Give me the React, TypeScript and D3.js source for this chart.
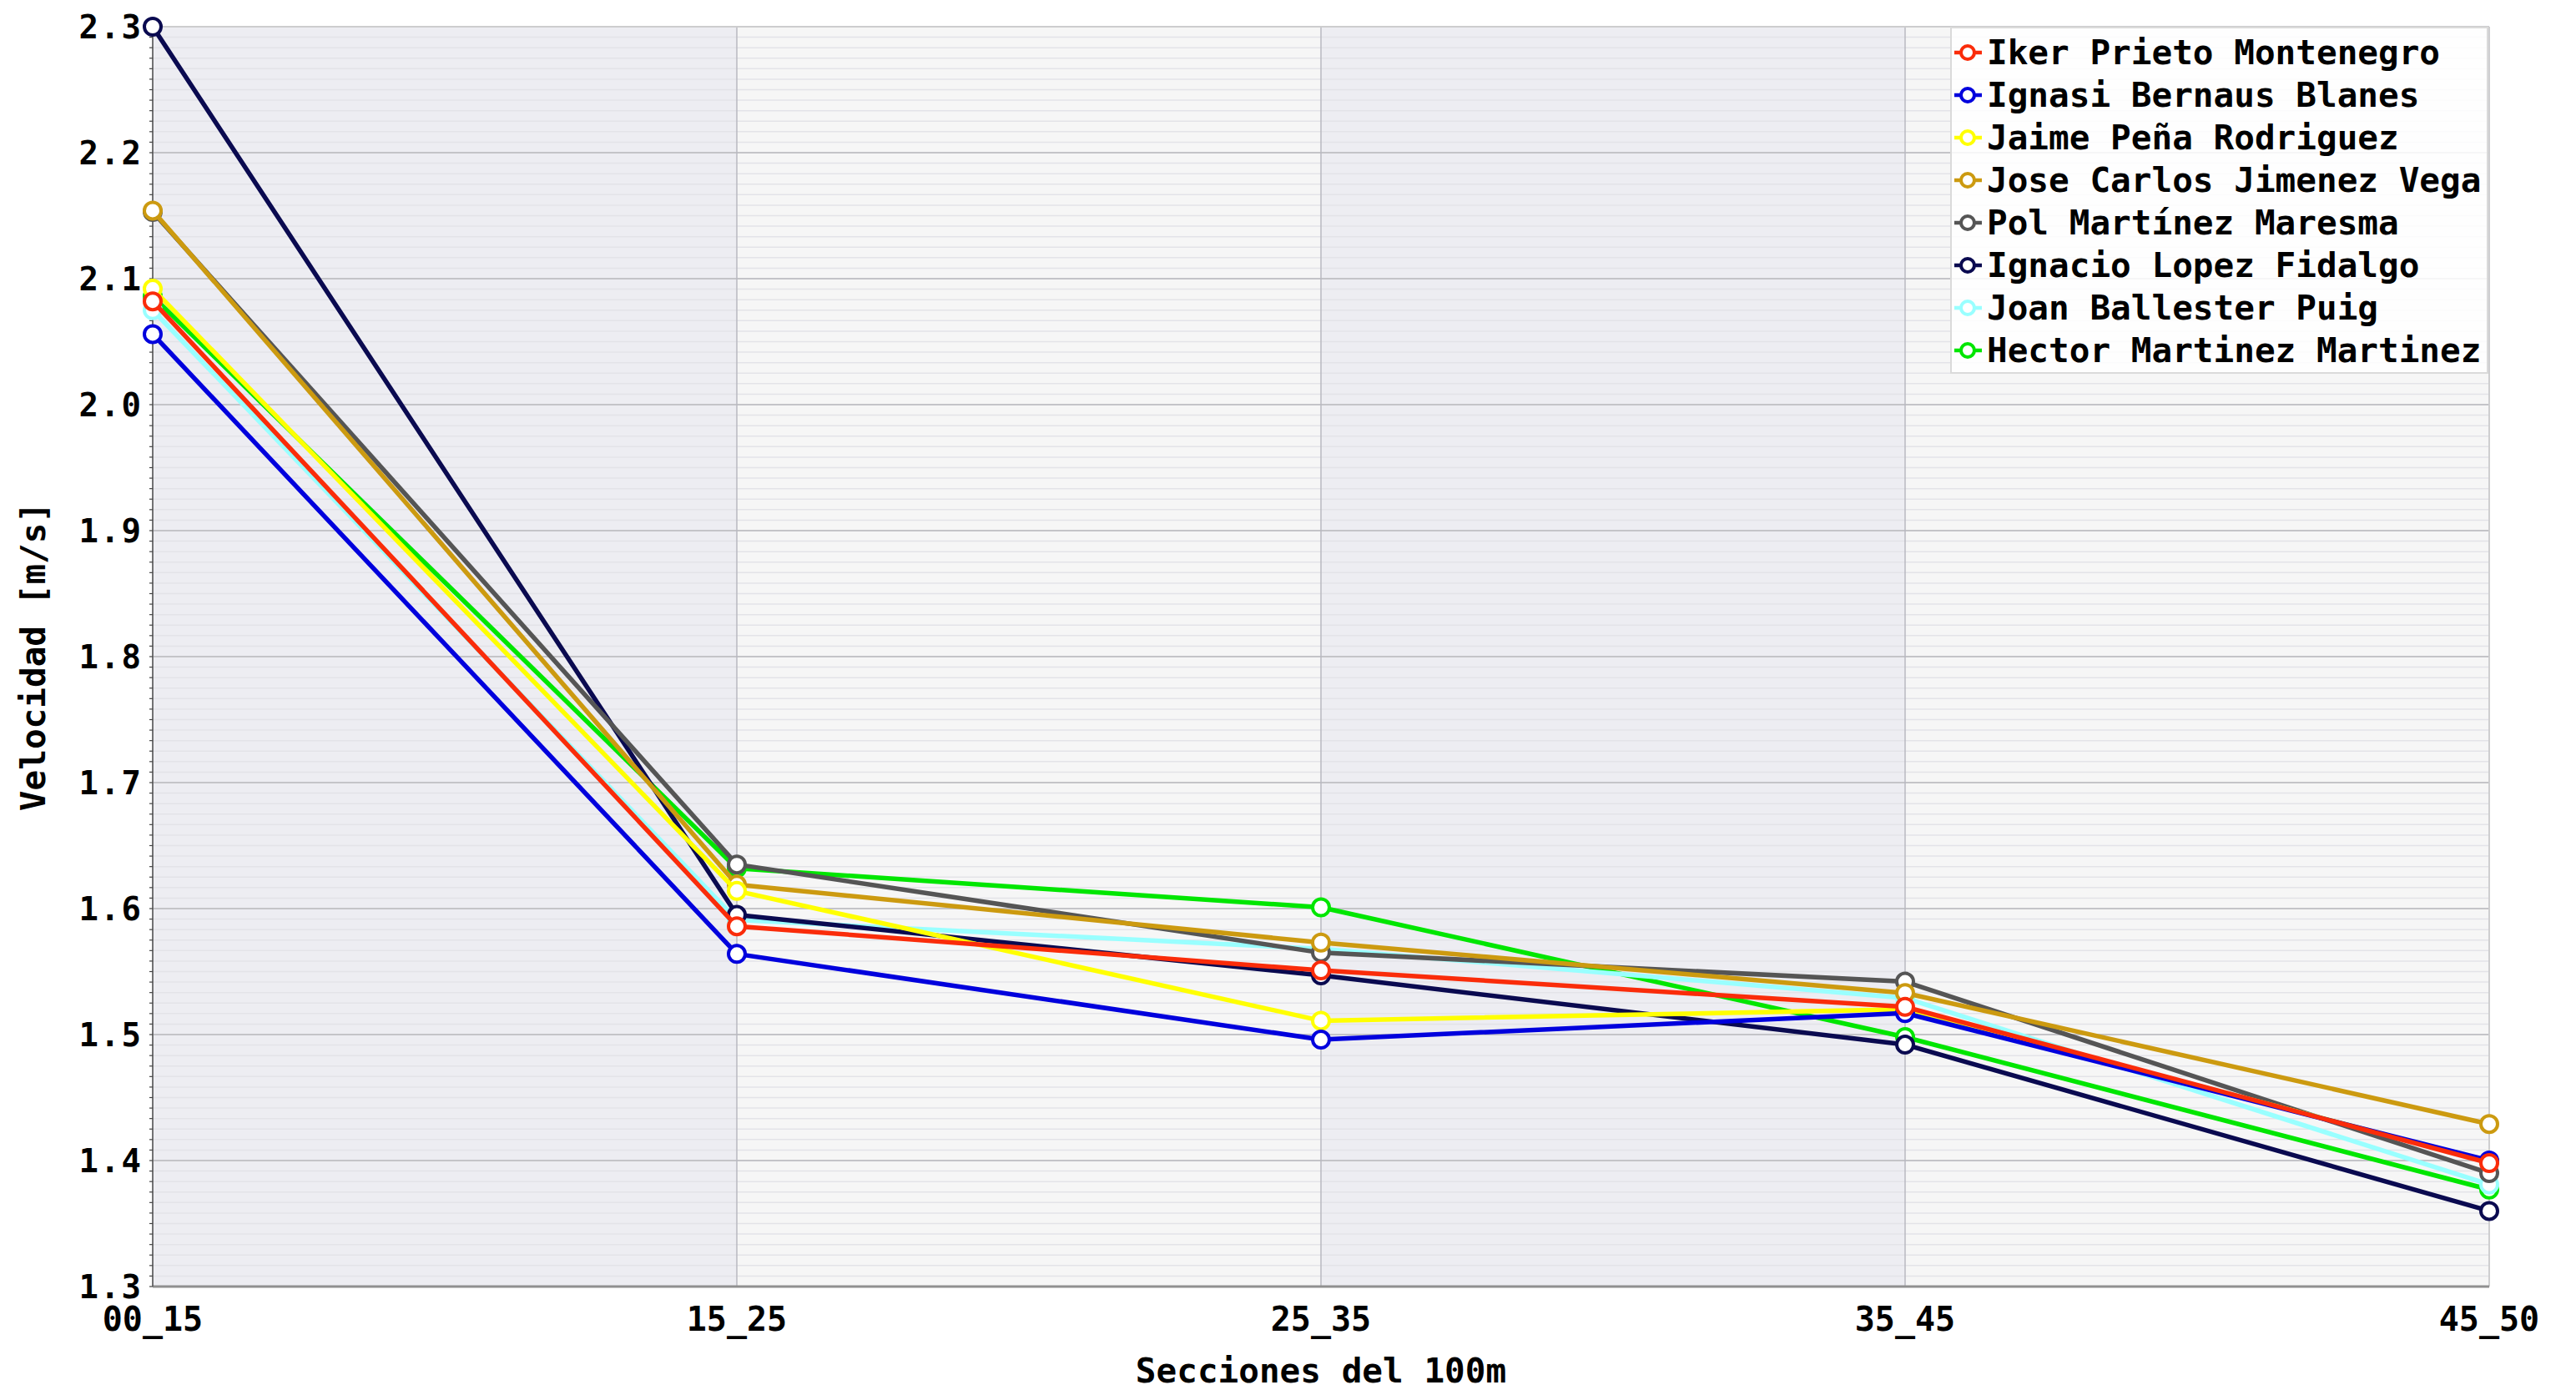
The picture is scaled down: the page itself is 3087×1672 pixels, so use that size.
import React from "react";
import * as d3 from "d3";

const categories = ["00_15", "15_25", "25_35", "35_45", "45_50"];

const names = [
  "Iker Prieto Montenegro",
  "Ignasi Bernaus Blanes",
  "Jaime Peña Rodriguez",
  "Jose Carlos Jimenez Vega",
  "Pol Martínez Maresma",
  "Ignacio Lopez Fidalgo",
  "Joan Ballester Puig",
  "Hector Martinez Martinez",
];

const colors = [
  "#fa2c0a",
  "#0000dd",
  "#ffff00",
  "#cc9a10",
  "#555555",
  "#0a0a50",
  "#99ffff",
  "#00e600",
];

const iker = [2.082, 1.586, 1.551, 1.522, 1.398];
const ignasi = [2.056, 1.564, 1.496, 1.517, 1.400];
const jaime = [2.092, 1.614, 1.511, 1.520, 1.399];
const joseCarlos = [2.154, 1.619, 1.573, 1.533, 1.429];
const pol = [2.153, 1.635, 1.565, 1.542, 1.390];
const ignacio = [2.300, 1.595, 1.547, 1.492, 1.360];
const joan = [2.075, 1.591, 1.568, 1.529, 1.381];
const hector = [2.086, 1.632, 1.601, 1.498, 1.377];

const seriesValues = [iker, ignasi, jaime, joseCarlos, pol, ignacio, joan, hector];

const yTicks = [1.3, 1.4, 1.5, 1.6, 1.7, 1.8, 1.9, 2.0, 2.1, 2.2, 2.3];

const W = 3087;
const H = 1672;
const margin = { left: 183, right: 104, top: 32, bottom: 130 };
const FONT = "'DejaVu Sans Mono', monospace";

export default function App() {
  const x = d3
    .scalePoint<string>()
    .domain(categories)
    .range([margin.left, W - margin.right])
    .padding(0);
  const y = d3
    .scaleLinear()
    .domain([1.3, 2.3])
    .range([H - margin.bottom, margin.top]);

  const minor = d3.range(0, 121).map((i) => 1.3 + i * (0.1 / 12));
  const line = d3
    .line<number>()
    .x((_, i) => x(categories[i]) as number)
    .y((d) => y(d));

  const x0 = margin.left;
  const x1 = W - margin.right;
  const y0 = y(2.3);
  const y1 = y(1.3);

  const order = d3.range(seriesValues.length).reverse();

  return (
    <svg
      width={W}
      height={H}
      style={{ position: "absolute", left: 0, top: 0, background: "#fff" }}
    >
      {categories.slice(0, -1).map((c, i) => (
        <rect
          key={"band" + i}
          x={x(c)}
          y={y0}
          width={(x(categories[i + 1]) as number) - (x(c) as number)}
          height={y1 - y0}
          fill={i % 2 === 0 ? "#ededf2" : "#f6f6f6"}
        />
      ))}
      {minor.map((v, i) => (
        <line
          key={"mg" + i}
          x1={x0}
          x2={x1}
          y1={y(v)}
          y2={y(v)}
          stroke="#e3e3e8"
          strokeWidth={1.5}
        />
      ))}
      {yTicks.map((v) => (
        <line
          key={"g" + v}
          x1={x0}
          x2={x1}
          y1={y(v)}
          y2={y(v)}
          stroke="#c4c4c8"
          strokeWidth={2}
        />
      ))}
      {categories.map((c) => (
        <line
          key={"vg" + c}
          x1={x(c)}
          x2={x(c)}
          y1={y0}
          y2={y1}
          stroke="#b8b8c0"
          strokeWidth={1.5}
        />
      ))}
      <line x1={x0} x2={x1} y1={y0} y2={y0} stroke="#d0d0d0" strokeWidth={1.5} />
      <line x1={x1} x2={x1} y1={y0} y2={y1} stroke="#d0d0d0" strokeWidth={1.5} />
      <line x1={x0} x2={x1} y1={y1} y2={y1} stroke="#909090" strokeWidth={3} />
      <line x1={x0} x2={x0} y1={y0} y2={y1} stroke="#555" strokeWidth={1.5} />
      {minor.map((v, i) => (
        <line
          key={"mt" + i}
          x1={x0 - 4}
          x2={x0}
          y1={y(v)}
          y2={y(v)}
          stroke="#444"
          strokeWidth={1.2}
        />
      ))}
      {yTicks.map((v) => (
        <text
          key={"yt" + v}
          x={x0 - 12}
          y={y(v)}
          textAnchor="end"
          dominantBaseline="central"
          fontFamily={FONT}
          fontWeight="bold"
          fontSize={39}
          letterSpacing={2}
        >
          {d3.format(".1f")(v)}
        </text>
      ))}
      {categories.map((c) => (
        <text
          key={"xt" + c}
          x={x(c)}
          y={1595}
          textAnchor="middle"
          fontFamily={FONT}
          fontWeight="bold"
          fontSize={40}
        >
          {c}
        </text>
      ))}
      <text
        x={(x0 + x1) / 2}
        y={1657}
        textAnchor="middle"
        fontFamily={FONT}
        fontWeight="bold"
        fontSize={41}
      >
        Secciones del 100m
      </text>
      <text
        transform={`translate(40, ${(y0 + y1) / 2}) rotate(-90)`}
        textAnchor="middle"
        dominantBaseline="central"
        fontFamily={FONT}
        fontWeight="bold"
        fontSize={41}
      >
        Velocidad [m/s]
      </text>
      {order.map((si) => (
        <g key={"s" + si}>
          <path
            d={line(seriesValues[si]) as string}
            fill="none"
            stroke={colors[si]}
            strokeWidth={5.5}
            strokeLinejoin="round"
          />
          {seriesValues[si].map((v, i) => (
            <circle
              key={i}
              cx={x(categories[i])}
              cy={y(v)}
              r={10}
              fill="#fff"
              stroke={colors[si]}
              strokeWidth={4}
            />
          ))}
        </g>
      ))}
      <rect
        x={2338}
        y={33}
        width={643}
        height={414}
        fill="#fff"
        fillOpacity={0.85}
        stroke="#dadada"
        strokeWidth={2}
      />
      {names.map((n, i) => {
        const ly = 63 + i * 51;
        return (
          <g key={"lg" + i}>
            <line x1={2342} x2={2375} y1={ly} y2={ly} stroke={colors[i]} strokeWidth={4.5} />
            <circle cx={2358} cy={ly} r={8} fill="#fff" stroke={colors[i]} strokeWidth={4} />
            <text
              x={2381}
              y={ly}
              dominantBaseline="central"
              fontFamily={FONT}
              fontWeight="bold"
              fontSize={41}
            >
              {n}
            </text>
          </g>
        );
      })}
    </svg>
  );
}
